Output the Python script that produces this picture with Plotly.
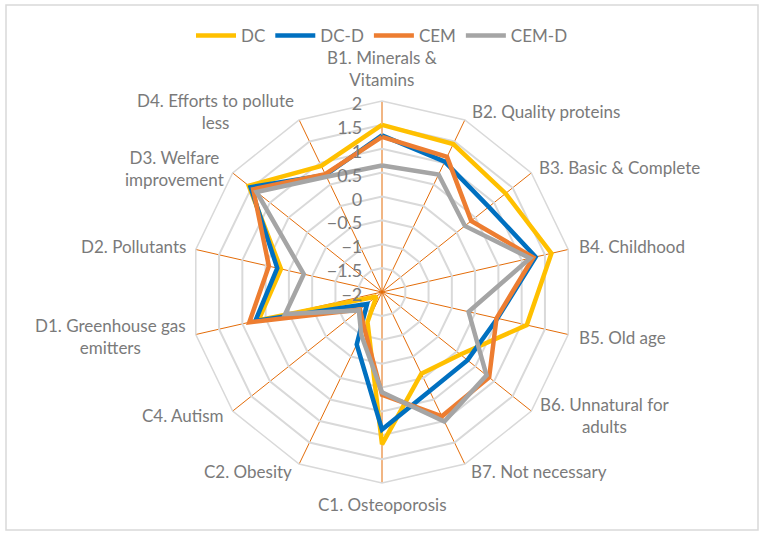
import plotly.graph_objects as go

categories = [
    "B1. Minerals &<br>Vitamins", "B2. Quality proteins", "B3. Basic & Complete",
    "B4. Childhood", "B5. Old age", "B6. Unnatural for<br>adults",
    "B7. Not necessary", "C1. Osteoporosis", "C2. Obesity", "C4. Autism",
    "D1. Greenhouse gas<br>emitters", "D2. Pollutants", "D3. Welfare<br>improvement",
    "D4. Efforts to pollute<br>less",
]

dc = [1.50, 1.44, 1.31, 1.64, 1.11, 0.10, -0.10, 1.19, -1.30, -1.85, 0.65, 0.17, 1.57, 0.93]
dc_d = [1.28, 1.03, 0.86, 1.30, 0.48, 0.29, 0.30, 0.88, -0.78, -1.60, 0.72, 0.25, 1.52, 0.72]
cem = [1.25, 1.14, 0.39, 1.25, 0.46, 0.87, 0.89, 0.15, -1.15, -1.41, 0.85, 0.43, 1.45, 0.74]
cem_d = [0.65, 0.73, 0.22, 1.18, -0.14, 0.80, 1.01, 0.10, -1.00, -1.38, 0.08, -0.32, 1.36, 0.68]

series = [
    ("DC", dc, "#FFC000"),
    ("DC-D", dc_d, "#0070C0"),
    ("CEM", cem, "#ED7D31"),
    ("CEM-D", cem_d, "#A5A5A5"),
]

W, H = 764, 536
GREY_TXT = "#7A7A7A"

# where Excel puts the category labels (pixel anchor, horizontal anchor)
label_pos = [
    (382, 68, "center"), (470, 112, "left"), (537, 167, "left"),
    (577, 247, "left"), (577, 337, "left"), (538, 415, "left"),
    (469, 471, "left"), (382, 504, "center"), (294, 471, "right"),
    (226, 415, "right"), (188, 336, "right"), (188, 247, "right"),
    (226, 168, "right"), (296, 112, "right"),
]

fig = go.Figure()
for name, vals, color in series:
    fig.add_trace(
        go.Scatterpolar(
            r=vals + vals[:1],
            theta=categories + categories[:1],
            mode="lines",
            name=name,
            line=dict(color=color, width=4.5),
            cliponaxis=False,
            hovertemplate="%{theta}: %{r}<extra>" + name + "</extra>",
        )
    )

fig.update_layout(
    width=W,
    height=H,
    margin=dict(l=0, r=0, t=0, b=0),
    paper_bgcolor="white",
    font=dict(family="Lato", size=17, color=GREY_TXT),
    polar=dict(
        domain=dict(x=[191 / W, 573 / W], y=[1 - 483 / H, 1 - 101 / H]),
        bgcolor="white",
        gridshape="linear",
        radialaxis=dict(
            range=[-2, 2],
            dtick=0.5,
            angle=90,
            side="counterclockwise",
            showline=False,
            gridcolor="#D9D9D9",
            gridwidth=1.5,
            ticks="outside",
            ticklen=3,
            tickcolor="rgba(0,0,0,0)",
            tickfont=dict(size=18, color=GREY_TXT),
        ),
        angularaxis=dict(
            direction="clockwise",
            rotation=90,
            gridcolor="#E36C09",
            gridwidth=1.3,
            showline=True,
            linecolor="#D9D9D9",
            linewidth=1.5,
            ticks="",
            showticklabels=False,
        ),
    ),
    legend=dict(
        orientation="h",
        x=0.5,
        xanchor="center",
        y=1 - 36 / H,
        yanchor="middle",
        font=dict(size=17, color=GREY_TXT),
        itemwidth=40,
    ),
    shapes=[
        dict(
            type="rect",
            xref="paper",
            yref="paper",
            x0=6 / W,
            x1=758 / W,
            y0=1 - 530 / H,
            y1=1 - 5 / H,
            line=dict(color="#D9D9D9", width=1.5),
        )
    ],
)

for text, (px, py, anchor) in zip(categories, label_pos):
    fig.add_annotation(
        x=px / W,
        y=1 - py / H,
        xref="paper",
        yref="paper",
        text=text,
        showarrow=False,
        xanchor=anchor,
        yanchor="middle",
        align="center",
        font=dict(size=17, color=GREY_TXT),
    )

fig.write_html(
    "out.html",
    config={"displayModeBar": False},
    post_script="document.body.style.margin='0';",
)
